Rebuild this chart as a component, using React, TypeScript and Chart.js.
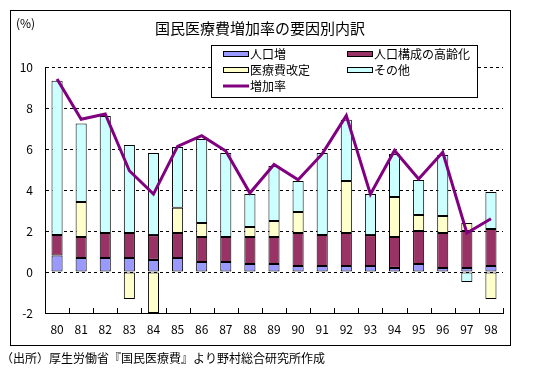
import React, { useEffect, useRef } from "react";
import { Chart, registerables } from "chart.js";

Chart.register(...registerables);

// ---- data ----
const years = ["80", "81", "82", "83", "84", "85", "86", "87", "88", "89", "90", "91", "92", "93", "94", "95", "96", "97", "98"];
const popGrowth = [0.81, 0.68, 0.68, 0.68, 0.59, 0.68, 0.49, 0.49, 0.39, 0.39, 0.29, 0.29, 0.29, 0.29, 0.2, 0.39, 0.2, 0.2, 0.29];
const aging = [0.99, 1.03, 1.22, 1.22, 1.21, 1.22, 1.22, 1.22, 1.32, 1.32, 1.61, 1.51, 1.61, 1.51, 1.51, 1.61, 1.7, 1.8, 1.81];
const feeRevision = [null, 1.7, null, -1.32, -2.0, 1.24, 0.68, null, 0.49, 0.78, 1.03, null, 2.54, null, 1.95, 0.78, 0.83, 0.39, -1.32];
const other = [7.53, 3.83, 5.71, 4.3, 4.0, 2.96, 4.1, 4.09, 1.6, 2.68, 1.51, 4.0, 2.99, 2.0, 2.1, 1.71, 2.98, -0.49, 1.8];
const growthRate = [9.41, 7.45, 7.71, 4.94, 3.8, 6.13, 6.65, 5.9, 3.85, 5.24, 4.5, 5.76, 7.63, 3.8, 5.93, 4.54, 5.84, 1.9, 2.6];
const seriesLabels = ["人口増", "人口構成の高齢化", "医療費改定", "その他", "増加率"];
const seriesColors = ["#9999FF", "#993366", "#FFFFCC", "#CCFFFF", "#800080"];
const titleText = "国民医療費増加率の要因別内訳";
const unitText = "(%)";
const sourceText = "（出所）厚生労働省『国民医療費』より野村総合研究所作成";
const yMin = -2;
const yMax = 10;
const yStep = 2;

const FONT = '"Noto Sans CJK JP", "Noto Sans", sans-serif';

const decorPlugin = {
  id: "decor",
  beforeDraw(chart: any) {
    const ctx = chart.ctx;
    ctx.save();
    ctx.fillStyle = "#ffffff";
    ctx.fillRect(0, 0, chart.width, chart.height);
    ctx.restore();
  },
  afterDatasetsDraw(chart: any) {
    // inward tick marks on the category axis, at category boundaries
    const ctx = chart.ctx;
    const xs = chart.scales.x;
    const bottom = chart.chartArea.bottom;
    ctx.save();
    ctx.strokeStyle = "#000";
    ctx.lineWidth = 1;
    ctx.beginPath();
    for (let i = 1; i <= years.length; i++) {
      const px = Math.round(xs.getPixelForValue(i - 0.5)) + 0.5;
      ctx.moveTo(px, bottom);
      ctx.lineTo(px, bottom - 5);
    }
    ctx.stroke();
    ctx.restore();
  },
  afterDraw(chart: any) {
    const ctx = chart.ctx;
    ctx.save();
    // outer frame
    ctx.strokeStyle = "#000";
    ctx.lineWidth = 1;
    ctx.strokeRect(10.5, 10.5, 500, 335);

    ctx.fillStyle = "#000";
    ctx.textBaseline = "middle";
    // unit
    ctx.font = `12px ${FONT}`;
    ctx.textAlign = "left";
    ctx.fillText(unitText, 16, 23);
    // title
    ctx.font = `15px ${FONT}`;
    ctx.textAlign = "center";
    ctx.fillText(titleText, 260, 28);
    // source
    ctx.font = `12px ${FONT}`;
    ctx.textAlign = "left";
    ctx.fillText(sourceText, 1, 358);

    // legend
    const lx = 211, ly = 45, lw = 266, lh = 52;
    ctx.fillStyle = "#fff";
    ctx.fillRect(lx, ly, lw, lh);
    ctx.strokeStyle = "#000";
    ctx.strokeRect(lx + 0.5, ly + 0.5, lw, lh);
    const cols = [lx + 12, lx + 136];
    const rows = [ly + 9, ly + 25, ly + 41];
    const items = [
      { i: 0, c: 0, r: 0 },
      { i: 1, c: 1, r: 0 },
      { i: 2, c: 0, r: 1 },
      { i: 3, c: 1, r: 1 },
      { i: 4, c: 0, r: 2 },
    ];
    ctx.font = `12px ${FONT}`;
    ctx.textAlign = "left";
    for (const it of items) {
      const x = cols[it.c];
      const y = rows[it.r];
      if (it.i < 4) {
        ctx.fillStyle = seriesColors[it.i];
        ctx.fillRect(x, y - 3, 25, 6);
        ctx.strokeStyle = "#000";
        ctx.strokeRect(x + 0.5, y - 3 + 0.5, 25, 5);
      } else {
        ctx.strokeStyle = seriesColors[it.i];
        ctx.lineWidth = 3;
        ctx.beginPath();
        ctx.moveTo(x, y);
        ctx.lineTo(x + 26, y);
        ctx.stroke();
        ctx.lineWidth = 1;
      }
      ctx.fillStyle = "#000";
      ctx.fillText(seriesLabels[it.i], x + 27, y);
    }
    ctx.restore();
  },
};

export default function App() {
  const ref = useRef<HTMLCanvasElement | null>(null);

  useEffect(() => {
    const canvas = ref.current;
    if (!canvas) return;
    const barCommon = {
      type: "bar" as const,
      borderColor: "#000000",
      borderWidth: 1,
      borderSkipped: false,
      stack: "bars",
      order: 1,
      barPercentage: 0.46,
      categoryPercentage: 1.0,
    };
    const chart = new Chart(canvas, {
      type: "bar",
      data: {
        labels: years,
        datasets: [
          { ...barCommon, label: seriesLabels[0], data: popGrowth, backgroundColor: seriesColors[0] },
          { ...barCommon, label: seriesLabels[1], data: aging, backgroundColor: seriesColors[1] },
          { ...barCommon, label: seriesLabels[2], data: feeRevision as any, backgroundColor: seriesColors[2] },
          { ...barCommon, label: seriesLabels[3], data: other, backgroundColor: seriesColors[3] },
          {
            type: "line" as const,
            label: seriesLabels[4],
            data: growthRate,
            borderColor: seriesColors[4],
            backgroundColor: seriesColors[4],
            borderWidth: 3,
            pointRadius: 0,
            tension: 0,
            stack: "line",
            order: 0,
          } as any,
        ],
      },
      options: {
        responsive: false,
        animation: false,
        devicePixelRatio: 1,
        layout: { padding: { left: 10, top: 67, right: 51, bottom: 27 } },
        plugins: {
          legend: { display: false },
          tooltip: { enabled: false },
          title: { display: false },
        },
        scales: {
          x: {
            stacked: true,
            offset: true,
            grid: { display: false, drawTicks: false },
            border: { display: true, color: "#000", width: 1 },
            ticks: {
              color: "#000",
              font: { family: FONT, size: 12 },
              padding: 9,
              maxRotation: 0,
              autoSkip: false,
            },
            afterFit(scale: any) {
              scale.height = 28;
            },
          },
          y: {
            stacked: true,
            min: yMin,
            max: yMax,
            grid: {
              drawTicks: false,
              color: (c: any) => (c.tick && c.tick.value === yMin ? "rgba(0,0,0,0)" : "#000"),
              lineWidth: 1,
            },
            border: { display: true, color: "#000", width: 1, dash: [3, 3] },
            ticks: {
              stepSize: yStep,
              color: "#000",
              font: { family: FONT, size: 12 },
              padding: 12,
            },
            afterFit(scale: any) {
              scale.width = 35;
            },
          } as any,
        },
      },
      plugins: [decorPlugin],
    });
    return () => chart.destroy();
  }, []);

  return (
    <div style={{ position: "fixed", left: 0, top: 0, width: 554, height: 368, background: "#fff" }}>
      <canvas ref={ref} width={554} height={368} style={{ width: 554, height: 368, display: "block" }} />
    </div>
  );
}
